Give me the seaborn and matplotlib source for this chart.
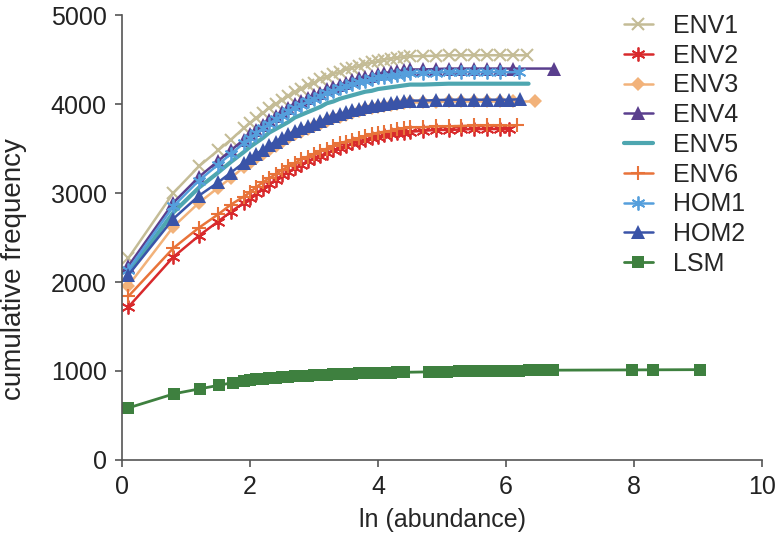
import numpy as np
import pandas as pd
import matplotlib
matplotlib.use("Agg")
import matplotlib.pyplot as plt
import seaborn as sns

# --- data ---
# shared ln(abundance) positions for the ENV / HOM curves
x_env = [0.1, 0.8, 1.2, 1.5, 1.7, 1.9, 2.0, 2.1, 2.2, 2.3, 2.4, 2.5, 2.6, 2.7, 2.8,
         2.9, 3.0, 3.1, 3.2, 3.3, 3.4, 3.5, 3.6, 3.7, 3.8, 3.9, 4.0, 4.1, 4.2, 4.3,
         4.4, 4.5, 4.7, 4.9, 5.1, 5.3, 5.5, 5.7, 5.9]

env1 = [2270, 3000, 3300, 3480, 3600, 3730, 3790, 3840, 3900, 3960, 4000, 4050, 4090,
        4140, 4170, 4210, 4240, 4280, 4310, 4340, 4360, 4390, 4410, 4430, 4450, 4470,
        4480, 4500, 4510, 4520, 4530, 4540, 4540, 4545, 4550, 4550, 4550, 4550, 4550]
env2 = [1720, 2280, 2520, 2680, 2790, 2890, 2940, 3000, 3050, 3100, 3150, 3200, 3240,
        3280, 3320, 3360, 3390, 3420, 3450, 3480, 3510, 3530, 3560, 3580, 3600, 3620,
        3630, 3650, 3660, 3670, 3680, 3690, 3700, 3710, 3710, 3715, 3720, 3720, 3720]
env3 = [1960, 2620, 2890, 3060, 3170, 3290, 3340, 3390, 3440, 3490, 3530, 3580, 3620,
        3660, 3690, 3720, 3750, 3780, 3810, 3840, 3860, 3880, 3900, 3920, 3940, 3960,
        3970, 3980, 3990, 4000, 4010, 4020, 4020, 4025, 4030, 4030, 4030, 4030, 4030]
env4 = [2180, 2890, 3180, 3360, 3480, 3600, 3660, 3710, 3770, 3820, 3870, 3910, 3960,
        4000, 4030, 4070, 4100, 4130, 4170, 4190, 4220, 4240, 4270, 4290, 4300, 4320,
        4340, 4350, 4360, 4370, 4380, 4390, 4390, 4395, 4400, 4400, 4400, 4400, 4400]
env5 = [2100, 2780, 3060, 3230, 3350, 3460, 3520, 3570, 3620, 3680, 3720, 3760, 3800,
        3850, 3880, 3910, 3940, 3970, 4010, 4030, 4060, 4080, 4100, 4120, 4140, 4150,
        4170, 4180, 4190, 4200, 4210, 4220, 4220, 4225, 4230, 4230, 4230, 4230, 4230]
env6 = [1840, 2380, 2610, 2760, 2870, 2960, 3010, 3070, 3120, 3170, 3210, 3260, 3300,
        3340, 3380, 3410, 3440, 3470, 3500, 3530, 3560, 3580, 3600, 3620, 3640, 3660,
        3680, 3690, 3700, 3720, 3730, 3740, 3740, 3750, 3750, 3755, 3760, 3760, 3760]
hom1 = [2140, 2850, 3140, 3320, 3440, 3560, 3620, 3670, 3730, 3780, 3830, 3870, 3920,
        3960, 3990, 4030, 4060, 4090, 4130, 4150, 4180, 4200, 4230, 4250, 4260, 4280,
        4300, 4310, 4320, 4330, 4340, 4350, 4350, 4355, 4360, 4360, 4360, 4360, 4360]
hom2 = [2080, 2710, 2970, 3120, 3230, 3340, 3390, 3440, 3490, 3540, 3580, 3620, 3660,
        3700, 3730, 3750, 3780, 3810, 3840, 3870, 3890, 3910, 3930, 3950, 3970, 3980,
        3990, 4000, 4010, 4020, 4030, 4040, 4040, 4045, 4050, 4050, 4050, 4050, 4050]

# last few points of each curve (they stop at different abundances)
tail_x = {
    "ENV1": [6.1, 6.33], "ENV2": [6.05], "ENV3": [6.1, 6.45], "ENV4": [6.1, 6.74],
    "ENV5": [6.1, 6.35], "ENV6": [6.17], "HOM1": [6.2], "HOM2": [6.05, 6.22],
}
tail_y = {
    "ENV1": [4550, 4550], "ENV2": [3720], "ENV3": [4030, 4030], "ENV4": [4400, 4400],
    "ENV5": [4230, 4230], "ENV6": [3760], "HOM1": [4360], "HOM2": [4050, 4055],
}

lsm_x = [0.1, 0.82, 1.22, 1.52, 1.74, 1.9, 2.0, 2.1, 2.2, 2.3, 2.4, 2.5, 2.6, 2.7, 2.8,
         2.9, 3.0, 3.1, 3.2, 3.3, 3.4, 3.5, 3.6, 3.7, 3.8, 3.9, 4.0, 4.1, 4.2, 4.3, 4.4,
         4.8, 4.95, 5.08, 5.27, 5.42, 5.57, 5.72, 5.9, 6.05, 6.2, 6.35, 6.5, 6.6, 6.73,
         7.97, 8.3, 9.03]
lsm_y = [585, 745, 800, 840, 870, 885, 895, 905, 912, 918, 924, 930, 935, 940, 944,
         948, 952, 955, 958, 961, 964, 967, 970, 972, 974, 976, 978, 980, 982, 984, 985,
         990, 992, 994, 996, 997, 998, 999, 1002, 1004, 1005, 1006, 1007, 1008, 1009,
         1012, 1013, 1015]

series = {"ENV1": env1, "ENV2": env2, "ENV3": env3, "ENV4": env4,
          "ENV5": env5, "ENV6": env6, "HOM1": hom1, "HOM2": hom2}

# --- styles ---
asterisk = (6, 2, 0)
styles = {
    "ENV1": dict(color="#c4bc96", marker="x", ms=9, mew=1.5),
    "ENV2": dict(color="#d82a2c", marker=asterisk, ms=10, mew=1.3),
    "ENV3": dict(color="#f2b27a", marker="D", ms=7, mew=0),
    "ENV4": dict(color="#5a3f8e", marker="^", ms=10, mew=0),
    "ENV5": dict(color="#4ea6b0", marker=None, ms=0, mew=0),
    "ENV6": dict(color="#e8733a", marker="+", ms=10, mew=1.5),
    "HOM1": dict(color="#559fdc", marker=asterisk, ms=10, mew=1.3),
    "HOM2": dict(color="#3a54a8", marker="^", ms=10, mew=0),
    "LSM": dict(color="#3e803f", marker="s", ms=8.5, mew=0),
}

sns.set_style("ticks")
plt.rcParams["font.family"] = ["Liberation Sans", "DejaVu Sans"]

fig, ax = plt.subplots(figsize=(7.77, 5.43), dpi=100)
fig.subplots_adjust(left=0.157, right=0.981, bottom=0.153, top=0.972)

for name, yvals in series.items():
    st = styles[name]
    df = pd.DataFrame({"x": x_env + tail_x[name], "y": yvals + tail_y[name]})
    sns.lineplot(data=df, x="x", y="y", ax=ax, label=name, color=st["color"],
                 marker=st["marker"], markersize=st["ms"], markeredgewidth=st["mew"],
                 markeredgecolor=st["color"], linewidth=3 if name == "ENV5" else 1.8,
                 sort=False)

st = styles["LSM"]
sns.lineplot(x=lsm_x, y=lsm_y, ax=ax, label="LSM", color=st["color"], marker="s",
             markersize=st["ms"], markeredgewidth=0, linewidth=2, sort=False)

ax.set_xlim(0, 10)
ax.set_ylim(0, 5000)
ax.set_xticks([0, 2, 4, 6, 8, 10])
ax.set_yticks([0, 1000, 2000, 3000, 4000, 5000])
ax.set_xlabel("ln (abundance)", fontsize=18, labelpad=6)
ax.set_ylabel("cumulative frequency", fontsize=20)
ax.yaxis.set_label_coords(-0.148, 0.43)
ax.tick_params(labelsize=18, length=5, width=1.2, color="#555555", direction="out",
               pad=6, labelcolor="#222222")
for s in ["left", "bottom"]:
    ax.spines[s].set_color("#555555")
    ax.spines[s].set_linewidth(1.2)
sns.despine(ax=ax)

ax.legend(loc="upper left", bbox_to_anchor=(0.803, 0.9745), bbox_transform=fig.transFigure,
          frameon=False, fontsize=18, handlelength=1.15, handletextpad=0.8,
          labelspacing=0.23, borderpad=0, borderaxespad=0)

plt.savefig("out.png", dpi=100)
